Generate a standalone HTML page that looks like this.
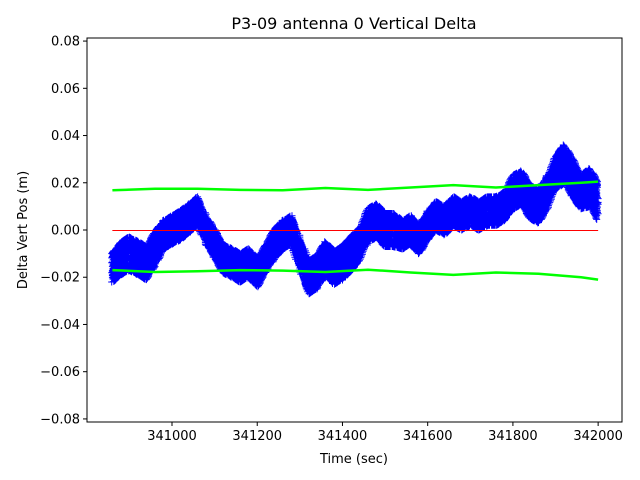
<!DOCTYPE html>
<html><head><meta charset="utf-8"><style>
body{margin:0;background:#fff}
svg{display:block;font-family:"DejaVu Sans","Liberation Sans",sans-serif}
</style></head><body>
<svg id="chart" width="640" height="480" viewBox="0 0 640 480">
<rect width="640" height="480" fill="#fff"/>
<text x="354" y="29" font-size="16" text-anchor="middle">P3-09 antenna 0 Vertical Delta</text>
<g id="plot"></g>
<g id="axes"></g>
<text x="354" y="463" font-size="13" text-anchor="middle">Time (sec)</text>
<text transform="translate(27,230) rotate(-90)" font-size="13" text-anchor="middle">Delta Vert Pos (m)</text>
</svg>
<script>
const times = [340860,340880,340900,340920,340940,340960,340980,341000,341020,341040,341060,341080,341100,341120,341140,341160,341180,341200,341220,341240,341260,341280,341300,341320,341340,341360,341380,341400,341420,341440,341460,341480,341500,341520,341540,341560,341580,341600,341620,341640,341660,341680,341700,341720,341740,341760,341780,341800,341820,341840,341860,341880,341900,341920,341940,341960,341980,342000];
const deltaCenter = [-0.016,-0.012,-0.010,-0.012,-0.014,-0.008,-0.002,0.000,0.002,0.005,0.008,0.000,-0.006,-0.012,-0.014,-0.016,-0.014,-0.018,-0.012,-0.006,-0.002,0.000,-0.010,-0.020,-0.018,-0.012,-0.016,-0.014,-0.010,-0.006,0.002,0.004,0.000,0.000,-0.002,0.000,-0.004,0.002,0.006,0.004,0.008,0.006,0.008,0.006,0.008,0.008,0.010,0.016,0.018,0.012,0.010,0.016,0.024,0.028,0.022,0.016,0.018,0.012];
const deltaSpread = [0.006,0.007,0.007,0.007,0.007,0.007,0.006,0.006,0.006,0.006,0.006,0.006,0.006,0.006,0.006,0.006,0.006,0.006,0.006,0.006,0.006,0.006,0.007,0.007,0.007,0.007,0.007,0.007,0.007,0.007,0.007,0.007,0.007,0.007,0.006,0.006,0.006,0.006,0.006,0.006,0.006,0.006,0.006,0.006,0.006,0.006,0.006,0.007,0.007,0.007,0.007,0.007,0.007,0.008,0.008,0.007,0.008,0.008];
const boundTimes = [340860,340960,341060,341160,341260,341360,341460,341560,341660,341760,341860,341960,342000];
const upperBound = [0.0168,0.0175,0.0175,0.017,0.0168,0.0178,0.017,0.018,0.019,0.018,0.019,0.020,0.0205];
const lowerBound = [-0.017,-0.0178,-0.0175,-0.017,-0.0172,-0.0178,-0.0168,-0.018,-0.019,-0.018,-0.0185,-0.020,-0.021];
const xTicks = [341000,341200,341400,341600,341800,342000];
const yTicks = [-0.08,-0.06,-0.04,-0.02,0.00,0.02,0.04,0.06,0.08];

const L=87,R=622,T=38,B=422;
const X0=340800.5,X1=342056,Y0=-0.0813,Y1=0.0813;
const xs=v=>L+(v-X0)/(X1-X0)*(R-L);
const ys=v=>B-(v-Y0)/(Y1-Y0)*(B-T);
const NS='http://www.w3.org/2000/svg';
const plot=document.getElementById('plot'),axes=document.getElementById('axes');
function mk(tag,attrs,parent){const e=document.createElementNS(NS,tag);for(const k in attrs)e.setAttribute(k,attrs[k]);parent.appendChild(e);return e;}

let d='';
const offs=[-1,-0.55,-0.1,0.35,0.8,-0.8,-0.35,0.1,0.55,1,-0.7,0.25,0.7,-0.2];
for(let i=0;i<times.length-1;i++){
  for(let s=0;s<12;s++){
    const f=s/12;
    const t=times[i]+(times[i+1]-times[i])*f;
    const c=deltaCenter[i]+(deltaCenter[i+1]-deltaCenter[i])*f;
    const sp=deltaSpread[i]+(deltaSpread[i+1]-deltaSpread[i])*f;
    for(let k=0;k<offs.length;k++){
      const o=offs[(k+s*3+i)%offs.length];
      const px=xs(t)+((k%3)-1)*0.7, py=ys(c+o*sp);
      d+=`M${(px-3.5).toFixed(1)} ${py.toFixed(1)}h7M${px.toFixed(1)} ${(py-3.5).toFixed(1)}v7`;
    }
  }
}
const blue=mk('path',{d:d,stroke:'#0000ff','stroke-width':1,fill:'none'},plot);



function boundPath(arr){return boundTimes.map((t,i)=>(i?'L':'M')+xs(t).toFixed(1)+' '+ys(arr[i]).toFixed(1)).join('');}
const gu=mk('path',{d:boundPath(upperBound),stroke:'#00ff00','stroke-width':2.5,fill:'none'},plot);


const gl=mk('path',{d:boundPath(lowerBound),stroke:'#00ff00','stroke-width':2.5,fill:'none'},plot);



const red=mk('line',{x1:xs(times[0]),x2:xs(times[times.length-1]),y1:ys(0)+0.5,y2:ys(0)+0.5,stroke:'#ff0000','stroke-width':1},plot);



const fr=mk('rect',{x:L,y:T,width:R-L,height:B-T,fill:'none',stroke:'#000','stroke-width':1},axes);



xTicks.forEach(v=>{
  const x=xs(v);
  const tk=mk('line',{x1:x,x2:x,y1:B,y2:B+4,stroke:'#000'},axes);
  
  
  const tx=mk('text',{x:x,y:B+18,'font-size':13,'text-anchor':'middle'},axes);
  tx.textContent=String(v);
  
  
});
yTicks.forEach(v=>{
  const y=ys(v);
  const tk=mk('line',{x1:L-4,x2:L,y1:y,y2:y,stroke:'#000'},axes);
  
  
  const tx=mk('text',{x:L-7,y:y+4.5,'font-size':13,'text-anchor':'end'},axes);
  tx.textContent=(v<0?'\u2212':'')+Math.abs(v).toFixed(2);
  
  
});
</script>
</body></html>
